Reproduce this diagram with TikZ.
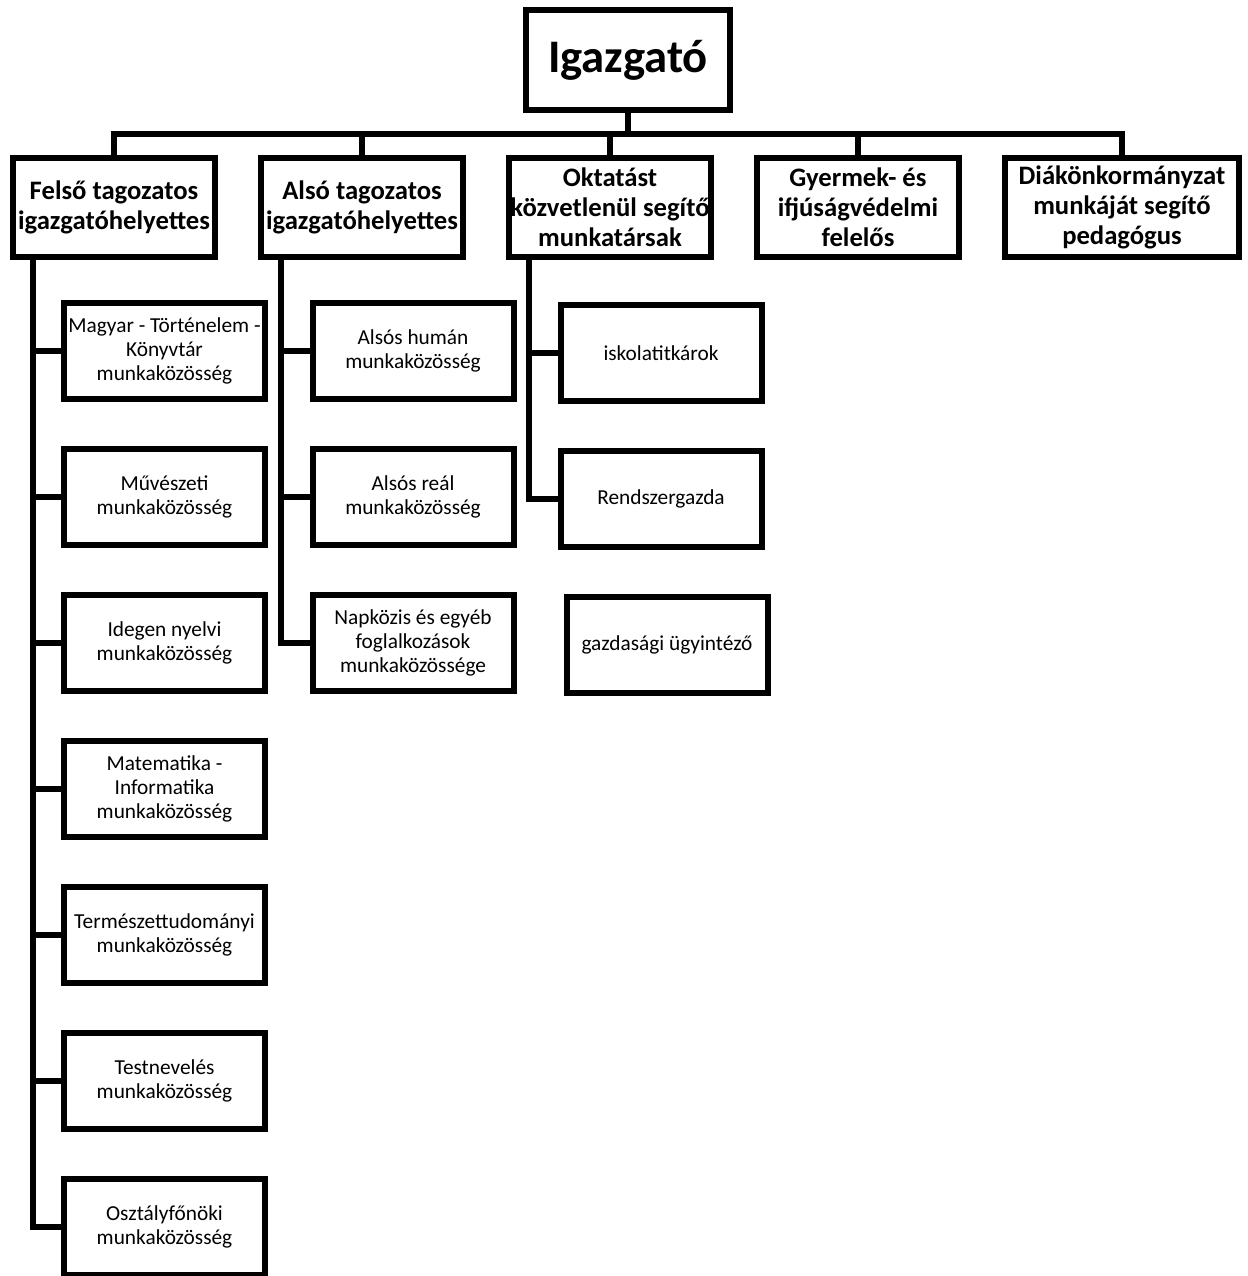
\documentclass[tikz,border=0pt]{standalone}
\usepackage{fontspec}
\setmainfont{Carlito}
\usepackage{tikz}
\usetikzlibrary{positioning,calc}

\begin{document}
\begin{tikzpicture}[
  x=0.75pt, y=-0.75pt,
  chief/.style={draw, line width=4.5pt, minimum width=153pt, minimum height=75pt, inner sep=0pt, font=\fontsize{35}{42}\selectfont\bfseries},
  head/.style={draw, line width=4.5pt, minimum width=151.5pt, minimum height=74.25pt, inner sep=0pt, align=flush center, font=\fontsize{20}{22.5}\selectfont\bfseries},
  unit/.style={draw, line width=4.5pt, minimum width=150.75pt, minimum height=72pt, inner sep=1pt, align=flush center, font=\fontsize{16}{18}\selectfont},
  conn/.style={line width=4.5pt},
  node distance=33pt
]
  \useasboundingbox (0,0) rectangle (1247,1276);

  \node[chief] (igazgato) at (628,60) {Igazgató};

  % Deputies and staff
  \node[head] (felso) at (114,207.5) {Felső tagozatos\\igazgatóhelyettes};
  \node[head, right=30pt of felso] (also) {Alsó tagozatos\\igazgatóhelyettes};
  \node[head, right=30pt of also] (oktat) {Oktatást\\közvetlenül segítő\\munkatársak};
  \node[head, right=30pt of oktat] (gyermek) {Gyermek- és\\ifjúságvédelmi\\felelős};
  \node[head, minimum width=175.5pt, right=30pt of gyermek] (diak) {Diákönkormányzat\\munkáját segítő\\pedagógus};

  % Upper school work groups
  \node[unit] (magyar) at (164.5,351) {Magyar - Történelem -\\Könyvtár\\munkaközösség};
  \node[unit, below=of magyar] (muv) {Művészeti\\munkaközösség};
  \node[unit, below=of muv] (idegen) {Idegen nyelvi\\munkaközösség};
  \node[unit, below=of idegen] (matek) {Matematika -\\Informatika\\munkaközösség};
  \node[unit, below=of matek] (term) {Természettudományi\\munkaközösség};
  \node[unit, below=of term] (testnev) {Testnevelés\\munkaközösség};
  \node[unit, below=of testnev] (osztfon) {Osztályfőnöki\\munkaközösség};

  % Lower school work groups
  \node[unit] (ahuman) at (413,351) {Alsós humán\\munkaközösség};
  \node[unit, below=of ahuman] (areal) {Alsós reál\\munkaközösség};
  \node[unit, below=of areal] (napkozi) {Napközis és egyéb\\foglalkozások\\munkaközössége};

  % Support staff
  \node[unit] (titkar) at (661,353) {iskolatitkárok};
  \node[unit, below=of titkar] (rendszer) {Rendszergazda};
  \node[unit, below=of rendszer, xshift=4.5pt] (gazd) {gazdasági ügyintéző};

  % Top bus
  \coordinate (topbus) at ($(igazgato.south)!0.5!(igazgato.south |- felso.north)$);
  \draw[conn] (igazgato.south) -- (topbus);
  \draw[conn] (felso.north) |- (topbus) -| (diak.north);
  \foreach \n in {also,oktat,gyermek}
    \draw[conn] (\n.north) -- (\n.north |- topbus);

  % Side buses
  \coordinate (fbus) at ([xshift=17pt]felso.south west);
  \coordinate (abus) at ([xshift=17pt]also.south west);
  \coordinate (obus) at ([xshift=17pt]oktat.south west);
  \draw[conn] (fbus) |- (osztfon.west);
  \foreach \n in {magyar,muv,idegen,matek,term,testnev}
    \draw[conn] (fbus |- \n.west) -- (\n.west);
  \draw[conn] (abus) |- (napkozi.west);
  \foreach \n in {ahuman,areal}
    \draw[conn] (abus |- \n.west) -- (\n.west);
  \draw[conn] (obus) |- (rendszer.west);
  \draw[conn] (obus |- titkar.west) -- (titkar.west);
\end{tikzpicture}
\end{document}
